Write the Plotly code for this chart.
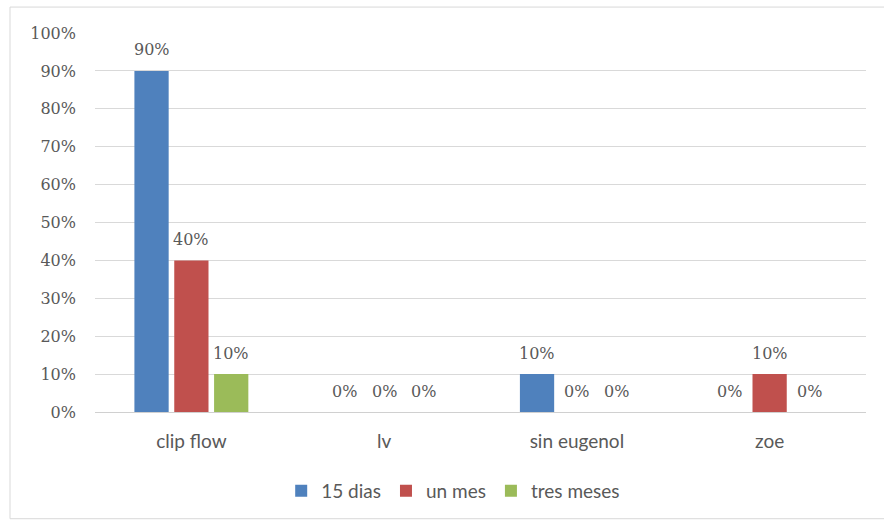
import plotly.graph_objects as go

categories = ["clip flow", "lv", "sin eugenol", "zoe"]
series_names = ["15 dias", "un mes", "tres meses"]
dias15 = [0.90, 0.0, 0.10, 0.0]
un_mes = [0.40, 0.0, 0.0, 0.10]
tres_meses = [0.10, 0.0, 0.0, 0.0]
colors = ["#4F81BD", "#C0504D", "#9BBB59"]
y_ticks = [0, 0.1, 0.2, 0.3, 0.4, 0.5, 0.6, 0.7, 0.8, 0.9, 1.0]

num_font = "DejaVu Serif"
txt_font = "Lato, Liberation Sans, sans-serif"
gray = "#595959"

W, H = 884, 521
ML, MR, MT, MB = 95, 18, 33, 108
BARGAP, GROUPGAP = 0.38, 0.14

all_series = [dias15, un_mes, tres_meses]

fig = go.Figure()
for name, vals, col in zip(series_names, all_series, colors):
    fig.add_trace(go.Bar(
        x=categories, y=vals, name=name,
        marker=dict(color=col, line=dict(width=0)),
        cliponaxis=False,
    ))

# data labels above bars (Excel style offset)
plot_w = W - ML - MR
cat_w = plot_w / len(categories)
slot_w = cat_w * (1 - BARGAP) / len(all_series)
annotations = []
for i, vals in enumerate(all_series):
    shift = (i - (len(all_series) - 1) / 2) * slot_w
    for cat, v in zip(categories, vals):
        annotations.append(dict(
            x=cat, y=v, xref="x", yref="y", text=f"{v:.0%}", showarrow=False,
            xshift=shift, yshift=21, yanchor="middle", xanchor="center",
            font=dict(family=num_font, size=16, color=gray),
        ))

fig.update_layout(
    width=W, height=H,
    margin=dict(l=ML, r=MR, t=MT, b=MB),
    paper_bgcolor="white", plot_bgcolor="white",
    barmode="group", bargap=BARGAP, bargroupgap=GROUPGAP,
    showlegend=True,
    legend=dict(orientation="h", x=0.2415, xanchor="left", y=-0.155, yanchor="top",
                font=dict(family=txt_font, size=19, color=gray),
                itemwidth=30, traceorder="normal"),
    xaxis=dict(showgrid=False, showline=True, linecolor="#D0D0D0", linewidth=1,
               ticks="", ticklabelstandoff=12,
               tickfont=dict(family=txt_font, size=19, color=gray)),
    yaxis=dict(range=[0, 1.0], tickvals=y_ticks, tickformat=".0%",
               showgrid=True, gridcolor="#D9D9D9", gridwidth=1,
               showline=False, zeroline=False, ticks="", ticklabelstandoff=18,
               tickfont=dict(family=num_font, size=16, color=gray)),
    annotations=annotations,
    shapes=[dict(type="rect", xref="paper", yref="paper",
                 x0=(10 - ML) / plot_w, x1=(W + 5 - ML) / plot_w,
                 y0=-(520 - (H - MB)) / (H - MT - MB),
                 y1=1 + (MT - 7) / (H - MT - MB),
                 line=dict(color="#D9D9D9", width=1))],
)

fig.write_html("out.html")
